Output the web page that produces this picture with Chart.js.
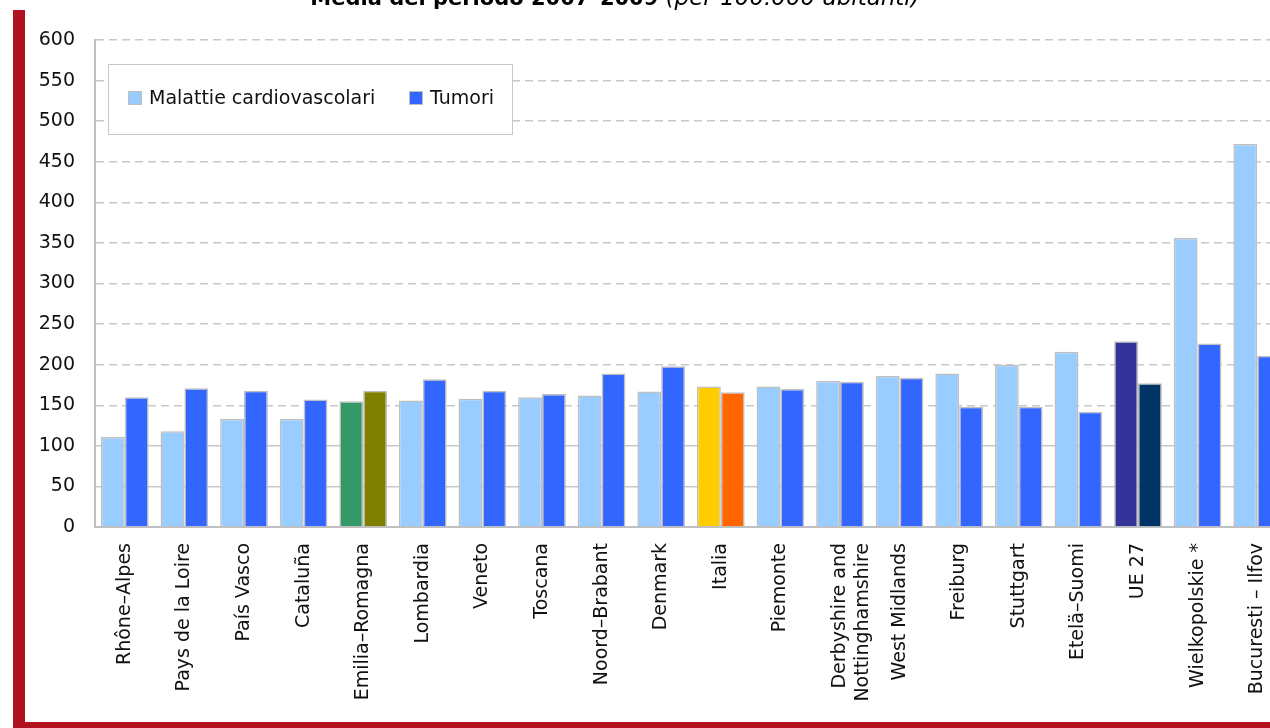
<!DOCTYPE html>
<html>
<head>
<meta charset="utf-8">
<script src="https://cdn.jsdelivr.net/npm/chart.js@4"></script>
<style>
  html, body { margin: 0; padding: 0; background: #fff; overflow: hidden; }
  #box { position: absolute; left: 0; top: 0; width: 1300px; height: 728px; }
</style>
</head>
<body>
<div id="box"><canvas id="grafico" width="1300" height="728"></canvas></div>
<script>
// dati (per 100.000 abitanti)
const regioni = [
  'Rhône–Alpes', 'Pays de la Loire', 'País Vasco', 'Cataluña', 'Emilia–Romagna',
  'Lombardia', 'Veneto', 'Toscana', 'Noord–Brabant', 'Denmark', 'Italia',
  'Piemonte', ['Derbyshire and', 'Nottinghamshire'], 'West Midlands', 'Freiburg',
  'Stuttgart', 'Etelä–Suomi', 'UE 27', 'Wielkopolskie *', 'Bucuresti – Ilfov'
];
const cardiovascolari = [111, 118, 133, 133, 155, 156, 158, 160, 162, 167, 173, 173, 180, 186, 189, 200, 216, 229, 356, 472];
const tumori = [160, 171, 168, 157, 168, 182, 168, 164, 189, 198, 166, 170, 179, 184, 148, 148, 142, 177, 226, 211];
const tickY = [0, 50, 100, 150, 200, 250, 300, 350, 400, 450, 500, 550, 600];

const nomiSerie = ['Malattie cardiovascolari', 'Tumori'];
const coloriSerie = ['#99ccff', '#3366ff'];
// colori speciali per alcune regioni (indice categoria -> [cardio, tumori])
const evidenziate = {
  4: ['#339966', '#808000'],
  10: ['#ffcc00', '#ff6600'],
  17: ['#333399', '#003366']
};
const ROSSO = '#b2121e';
const FONT = 'DejaVu Sans';

function coloreBarra(serie) {
  return c => (evidenziate[c.dataIndex] ? evidenziate[c.dataIndex][serie] : coloriSerie[serie]);
}

const cornice = {
  id: 'cornice',
  beforeDraw(chart) {
    const ctx = chart.ctx;
    ctx.save();
    ctx.fillStyle = '#fff';
    ctx.fillRect(0, 0, chart.width, chart.height);
    ctx.fillStyle = ROSSO;
    ctx.fillRect(13, 10, 12, chart.height - 10);
    ctx.fillRect(13, 722, chart.width - 13, 6);
    ctx.restore();
  },
  afterDraw(chart) {
    const ctx = chart.ctx;
    ctx.save();
    // titolo (tagliato in alto come nell'originale)
    const t1 = 'Media del periodo 2007–2009';
    const t2 = '(per 100.000 abitanti)';
    const f1 = 'bold 21px "' + FONT + '"';
    const f2 = 'oblique 23px "' + FONT + '"';
    ctx.fillStyle = '#000';
    ctx.textBaseline = 'alphabetic';
    ctx.font = f1;
    const w1 = ctx.measureText(t1 + ' ').width;
    ctx.font = f2;
    const w2 = ctx.measureText(t2).width;
    const x = 615 - (w1 + w2) / 2;
    ctx.font = f1;
    ctx.fillText(t1, x, 5);
    ctx.font = f2;
    ctx.fillText(t2, x + w1, 5);

    // legenda dentro l'area del grafico
    ctx.fillStyle = '#fff';
    ctx.fillRect(108, 64, 404, 70);
    ctx.strokeStyle = '#c8c8c8';
    ctx.lineWidth = 1;
    ctx.strokeRect(108.5, 64.5, 404, 70);
    ctx.font = '19px "' + FONT + '"';
    ctx.textBaseline = 'middle';
    const posX = [128, 409];
    chart.data.datasets.forEach((ds, i) => {
      ctx.fillStyle = coloriSerie[i];
      ctx.fillRect(posX[i], 91, 14, 14);
      ctx.strokeStyle = '#bfbfbf';
      ctx.strokeRect(posX[i] + 0.5, 91.5, 13, 13);
      ctx.fillStyle = '#111';
      ctx.fillText(ds.label, posX[i] + 21, 99);
    });
    ctx.restore();
  }
};

const ctx = document.getElementById('grafico').getContext('2d');
new Chart(ctx, {
  type: 'bar',
  data: {
    labels: regioni,
    datasets: [
      {
        label: nomiSerie[0],
        data: cardiovascolari,
        backgroundColor: coloreBarra(0),
        borderColor: '#bfbfbf',
        borderWidth: 1.5
      },
      {
        label: nomiSerie[1],
        data: tumori,
        backgroundColor: coloreBarra(1),
        borderColor: '#bfbfbf',
        borderWidth: 1.5
      }
    ]
  },
  options: {
    responsive: false,
    animation: false,
    devicePixelRatio: 1,
    layout: { padding: { top: 40, right: 13, bottom: 0, left: 0 } },
    categoryPercentage: 0.8,
    barPercentage: 1.0,
    plugins: {
      legend: { display: false },
      tooltip: { enabled: false }
    },
    scales: {
      x: {
        grid: { display: false, drawTicks: false },
        border: { color: '#c0c0c0', width: 2 },
        ticks: {
          autoSkip: false,
          maxRotation: 90,
          minRotation: 90,
          padding: 16,
          color: '#111',
          font: { family: FONT, size: 19 }
        },
        afterFit: s => { s.height = 201; }
      },
      y: {
        min: 0,
        max: 600,
        afterBuildTicks: s => { s.ticks = tickY.map(v => ({ value: v })); },
        grid: {
          drawTicks: false,
          color: c => (c.tick && c.tick.value === 0 ? 'rgba(0,0,0,0)' : '#c8c8c8'),
          lineWidth: 1.5
        },
        border: {
          color: '#c0c0c0',
          width: 2,
          dash: c => (c.tick && c.tick.value <= 100 ? [] : [8, 5])
        },
        ticks: {
          padding: 20,
          color: '#111',
          font: { family: FONT, size: 19 }
        },
        afterFit: s => { s.width = 95; }
      }
    }
  },
  plugins: [cornice]
});
</script>
</body>
</html>
